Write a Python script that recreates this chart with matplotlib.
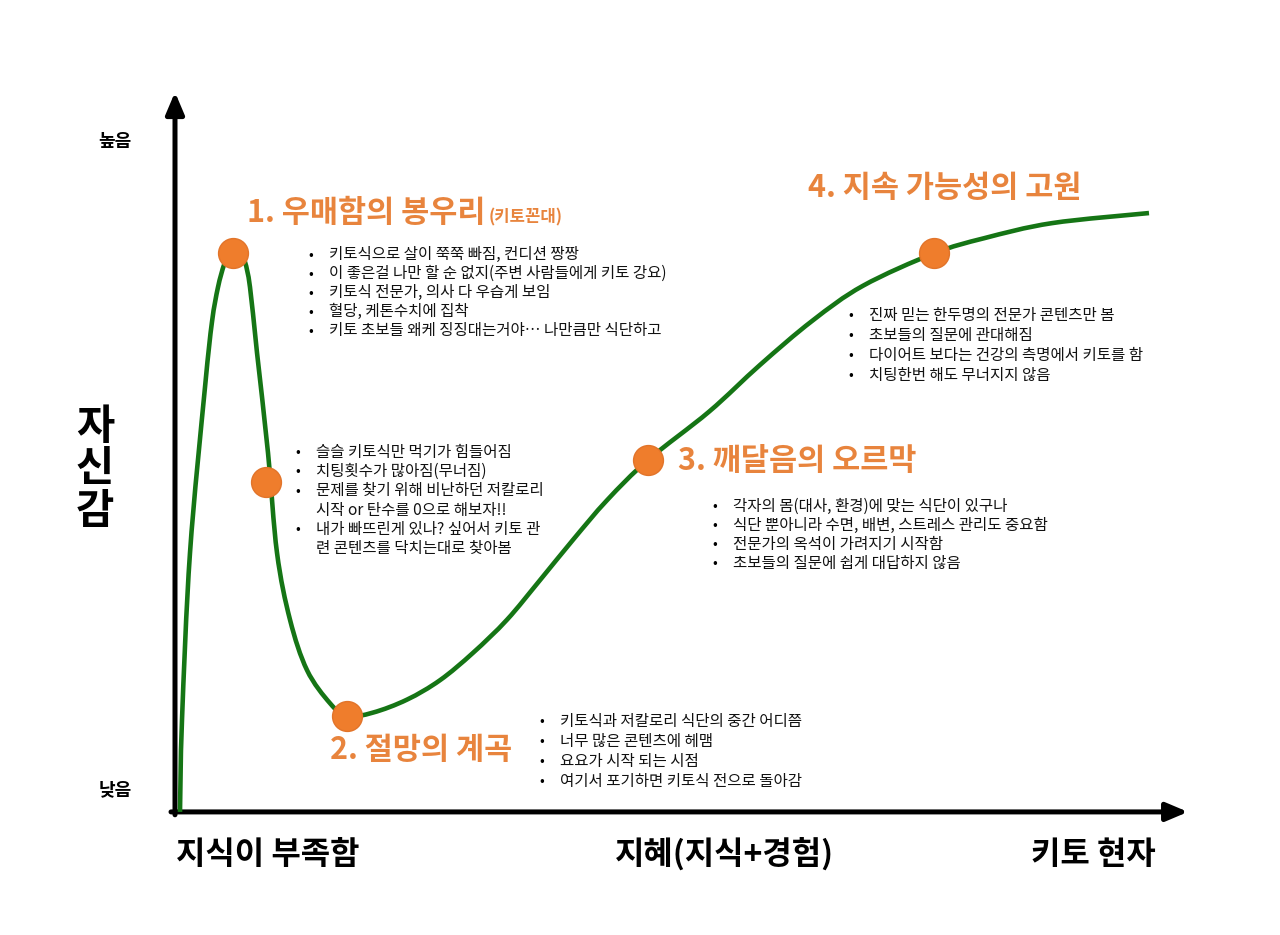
import matplotlib
matplotlib.use("Agg")
import matplotlib.pyplot as plt
from matplotlib.path import Path
from matplotlib.patches import PathPatch

plt.rcParams["font.family"] = ["Noto Sans CJK KR", "DejaVu Sans"]

# confidence curve (knowledge 0-100, confidence 0-100)
knowledge = [0.5, 0.7, 1.5, 3.0, 3.7, 4.3, 4.9, 5.4, 5.9, 6.5, 7.0, 7.5, 8.2,
             9.3, 10.2, 11.5, 13.2, 15.5, 17.2, 19.8, 23.2, 26.5, 29.8, 33.2,
             36.5, 39.8, 43.2, 47.3, 53.4, 58.5, 63.7, 68.8, 75.9, 80.9, 87.7,
             97.4]
confidence = [0.0, 12.8, 36.0, 59.0, 68.1, 72.9, 76.0, 77.5, 78.1, 77.6, 76.4,
              72.9, 63.8, 49.9, 36.0, 26.7, 19.7, 15.1, 13.3, 13.8, 15.6, 18.3,
              22.1, 26.7, 32.2, 37.8, 43.3, 48.9, 55.6, 62.1, 68.2, 73.1, 77.6,
              79.7, 81.8, 83.2]

# stage markers
dot_k = [5.8, 9.1, 17.2, 47.3, 75.9]
dot_c = [77.6, 45.8, 13.3, 48.9, 77.6]

stage_titles = ["1. 우매함의 봉우리", "2. 절망의 계곡", "3. 깨달음의 오르막", "4. 지속 가능성의 고원"]

peak_notes = [["키토식으로 살이 쭉쭉 빠짐, 컨디션 짱짱"],
              ["이 좋은걸 나만 할 순 없지(주변 사람들에게 키토 강요)"],
              ["키토식 전문가, 의사 다 우습게 보임"],
              ["혈당, 케톤수치에 집착"],
              ["키토 초보들 왜케 징징대는거야… 나만큼만 식단하고"]]
fall_notes = [["슬슬 키토식만 먹기가 힘들어짐"],
              ["치팅횟수가 많아짐(무너짐)"],
              ["문제를 찾기 위해 비난하던 저칼로리", "시작 or 탄수를 0으로 해보자!!"],
              ["내가 빠뜨린게 있나? 싶어서 키토 관", "련 콘텐츠를 닥치는대로 찾아봄"]]
valley_notes = [["키토식과 저칼로리 식단의 중간 어디쯤"],
                ["너무 많은 콘텐츠에 헤맴"],
                ["요요가 시작 되는 시점"],
                ["여기서 포기하면 키토식 전으로 돌아감"]]
slope_notes = [["각자의 몸(대사, 환경)에 맞는 식단이 있구나"],
               ["식단 뿐아니라 수면, 배변, 스트레스 관리도 중요함"],
               ["전문가의 옥석이 가려지기 시작함"],
               ["초보들의 질문에 쉽게 대답하지 않음"]]
plateau_notes = [["진짜 믿는 한두명의 전문가 콘텐츠만 봄"],
                 ["초보들의 질문에 관대해짐"],
                 ["다이어트 보다는 건강의 측명에서 키토를 함"],
                 ["치팅한번 해도 무너지지 않음"]]

x_labels = ["지식이 부족함", "지혜(지식+경험)", "키토 현자"]
y_label = "자신감"
y_high, y_low = "높음", "낮음"

GREEN = "#157515"
ORANGE = "#e8843d"
DOT = "#ef7d2c"


def smooth_path(xs, ys):
    # bezier segments through the read points (catmull-rom tangents)
    pts = list(zip(xs, ys))
    verts = [pts[0]]
    codes = [Path.MOVETO]
    n = len(pts)
    for i in range(n - 1):
        p0 = pts[max(i - 1, 0)]
        p1 = pts[i]
        p2 = pts[i + 1]
        p3 = pts[min(i + 2, n - 1)]
        c1 = (p1[0] + (p2[0] - p0[0]) / 6, p1[1] + (p2[1] - p0[1]) / 6)
        c2 = (p2[0] - (p3[0] - p1[0]) / 6, p2[1] - (p3[1] - p1[1]) / 6)
        verts += [c1, c2, p2]
        codes += [Path.CURVE4] * 3
    return Path(verts, codes)


def bullets(ax, x, y, items, step, gap=2.1):
    row = 0
    for item in items:
        ax.text(x, y - row * step, "•", fontsize=10, va="center", ha="left")
        for line in item:
            ax.text(x + gap, y - row * step, line, fontsize=11.2,
                    va="center", ha="left", color="#111111")
            row += 1


fig = plt.figure(figsize=(12.8, 9.35), dpi=100)
ax = fig.add_axes([0, 0, 1, 1])
ax.set_xlim(-17.5, 110.5)
ax.set_ylim(-17.1, 112.8)
ax.axis("off")

# axes with arrow heads
ax.annotate("", xy=(101.3, 0), xytext=(-0.4, 0),
            arrowprops=dict(arrowstyle="-|>,head_length=1.3,head_width=0.55",
                            lw=3.6, color="black", shrinkA=0, shrinkB=0))
ax.annotate("", xy=(0, 100.0), xytext=(0, -0.4),
            arrowprops=dict(arrowstyle="-|>,head_length=1.3,head_width=0.55",
                            lw=3.6, color="black", shrinkA=0, shrinkB=0))

ax.add_patch(PathPatch(smooth_path(knowledge, confidence), fill=False,
                       edgecolor=GREEN, lw=3.3, capstyle="butt", zorder=3))
ax.plot(dot_k, dot_c, "o", ms=21.5, color=DOT, mec="#e2742a", mew=1, zorder=4)

# stage titles
ax.text(7.2, 83.2, stage_titles[0], fontsize=22, fontweight="bold",
        color=ORANGE, va="center")
ax.text(31.4, 82.6, "(키토꼰대)", fontsize=12, fontweight="bold",
        color=ORANGE, va="center")
ax.text(15.5, 8.6, stage_titles[1], fontsize=22, fontweight="bold",
        color=ORANGE, va="center")
ax.text(50.3, 48.7, stage_titles[2], fontsize=22, fontweight="bold",
        color=ORANGE, va="center")
ax.text(63.3, 86.7, stage_titles[3], fontsize=22, fontweight="bold",
        color=ORANGE, va="center")

bullets(ax, 13.3, 77.4, peak_notes, 2.64)
bullets(ax, 12.0, 50.0, fall_notes, 2.69)
bullets(ax, 36.4, 12.6, valley_notes, 2.78)
bullets(ax, 53.7, 42.5, slope_notes, 2.64)
bullets(ax, 67.3, 69.0, plateau_notes, 2.78)

# axis wording
for xk, lab in zip([9.3, 55.0, 91.8], x_labels):
    ax.text(xk, -6.0, lab, fontsize=23, fontweight="black", ha="center",
            va="center")
for i, ch in enumerate(y_label):
    ax.text(-8.0, 53.5 - i * 5.9, ch, fontsize=30, fontweight="black",
            ha="center", va="center")
ax.text(-6.0, 93.1, y_high, fontsize=13, fontweight="black", ha="center",
        va="center")
ax.text(-6.0, 3.1, y_low, fontsize=13, fontweight="black", ha="center",
        va="center")

fig.savefig("out.png", dpi=100, facecolor="white")
